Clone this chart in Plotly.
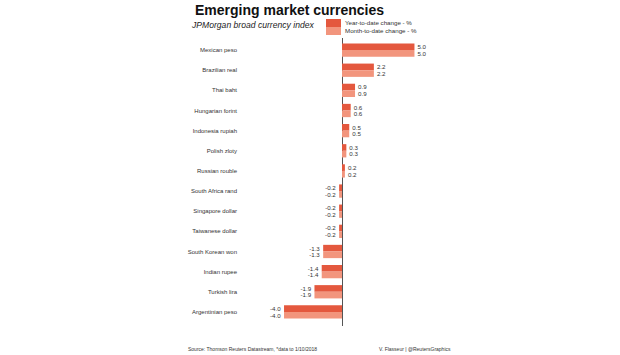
import plotly.graph_objects as go

categories = ["Mexican peso", "Brazilian real", "Thai baht", "Hungarian forint",
              "Indonesia rupiah", "Polish zloty", "Russian rouble", "South Africa rand",
              "Singapore dollar", "Taiwanese dollar", "South Korean won", "Indian rupee",
              "Turkish lira", "Argentinian peso"]
ytd = [5.0, 2.2, 0.9, 0.6, 0.5, 0.3, 0.2, -0.2, -0.2, -0.2, -1.3, -1.4, -1.9, -4.0]
mtd = [5.0, 2.2, 0.9, 0.6, 0.5, 0.3, 0.2, -0.2, -0.2, -0.2, -1.3, -1.4, -1.9, -4.0]
series_names = ["Year-to-date change - %", "Month-to-date change - %"]
title = "Emerging market currencies"
subtitle = "JPMorgan broad currency index"
source = "Source: Thomson Reuters Datastream, *data to 1/10/2018"
credit = "V. Flasseur | @ReutersGraphics"

colors = ["#E4583E", "#F2957D"]
FONT = "Liberation Sans, Arial, sans-serif"

W, H = 620, 355
L, R, T, B = 242, 442, 38, 326

def px(x):
    return (x - L) / (R - L)

def py(y):
    return (B - y) / (B - T)

fig = go.Figure()
for name, vals, col in zip(series_names, [ytd, mtd], colors):
    fig.add_trace(go.Bar(
        y=categories, x=vals, orientation="h", name=name,
        marker=dict(color=col, line=dict(width=0)),
        text=[f"{v:.1f}" for v in vals], textposition="outside",
        textfont=dict(size=6.5, color="#333333", family=FONT),
        cliponaxis=False, showlegend=False,
    ))

shapes = []
annotations = []
# legend swatches
for i, (name, col) in enumerate(zip(series_names, colors)):
    y0 = 19 + i * 8
    shapes.append(dict(type="rect", xref="paper", yref="paper",
                       x0=px(326), x1=px(341), y0=py(y0 + 8), y1=py(y0),
                       fillcolor=col, line=dict(width=0)))
    annotations.append(dict(x=px(343), y=py(y0 + 3.5), xref="paper", yref="paper",
                            text=name, showarrow=False, xanchor="left", yanchor="middle",
                            font=dict(size=6.2, color="#333333", family=FONT)))

annotations.append(dict(x=px(193), y=py(9.5), xref="paper", yref="paper",
                        text=f"<b>{title}</b>", showarrow=False, xanchor="left", yanchor="middle",
                        font=dict(size=14, color="#111111", family=FONT)))
annotations.append(dict(x=px(189), y=py(25), xref="paper", yref="paper",
                        text=f"<i>{subtitle}</i>", showarrow=False, xanchor="left", yanchor="middle",
                        font=dict(size=8.6, color="#222222", family=FONT)))
annotations.append(dict(x=px(186), y=py(349), xref="paper", yref="paper",
                        text=source, showarrow=False, xanchor="left", yanchor="middle",
                        font=dict(size=5, color="#333333", family=FONT)))
annotations.append(dict(x=px(377), y=py(349), xref="paper", yref="paper",
                        text=credit, showarrow=False, xanchor="left", yanchor="middle",
                        font=dict(size=5, color="#333333", family=FONT)))

fig.update_layout(
    width=W, height=H,
    margin=dict(l=L, r=W - R, t=T, b=H - B, pad=0),
    paper_bgcolor="white", plot_bgcolor="white",
    barmode="group", bargap=0.34, bargroupgap=0,
    showlegend=False,
    shapes=shapes, annotations=annotations,
    uniformtext=dict(mode=False),
    xaxis=dict(range=[-6.9, 6.9], showgrid=False, showticklabels=False, ticks="",
               zeroline=True, zerolinecolor="#555555", zerolinewidth=1, fixedrange=True),
    yaxis=dict(range=[13.7, -0.6], showgrid=False, ticks="", ticklabelstandoff=4,
               tickfont=dict(size=6, color="#333333", family=FONT), fixedrange=True),
    font=dict(family=FONT),
)

fig.write_html("out.html", config={"displayModeBar": False},
               post_script="document.body.style.margin='0';document.body.style.overflow='hidden';")
